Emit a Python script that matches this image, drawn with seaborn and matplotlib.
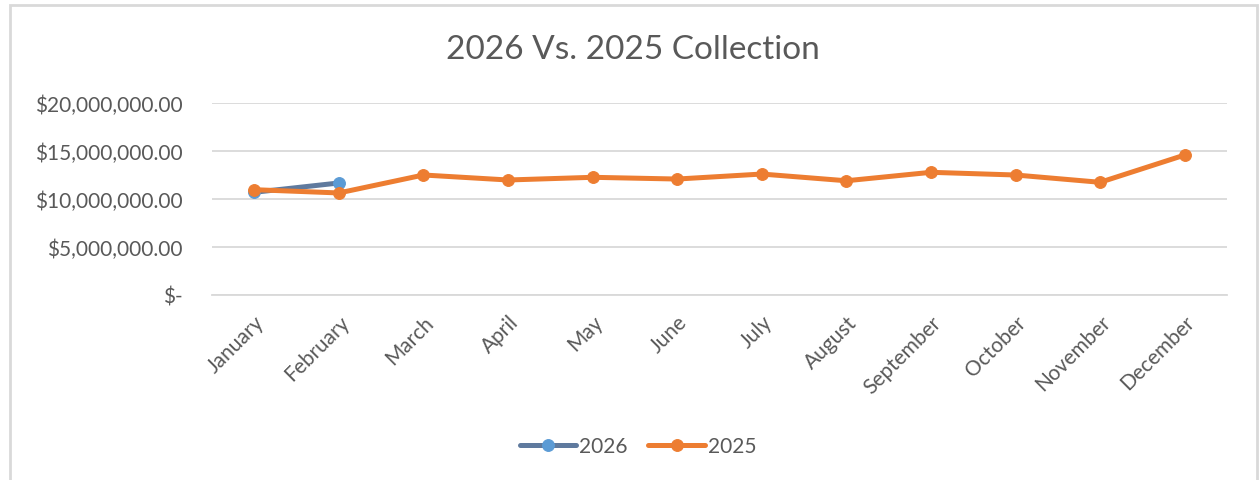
import matplotlib
matplotlib.use("Agg")
import matplotlib.pyplot as plt
import seaborn as sns
import pandas as pd
from matplotlib.patches import Rectangle
from matplotlib.ticker import FuncFormatter

months = ["January", "February", "March", "April", "May", "June", "July",
          "August", "September", "October", "November", "December"]
values_2026 = [10.70e6, 11.67e6]
values_2025 = [10.97e6, 10.63e6, 12.50e6, 11.98e6, 12.26e6, 12.08e6, 12.60e6,
               11.90e6, 12.78e6, 12.50e6, 11.74e6, 14.58e6]
y_ticks = [0, 5e6, 10e6, 15e6, 20e6]

df26 = pd.DataFrame({"month": months[:len(values_2026)], "value": values_2026, "pos": range(len(values_2026))})
df25 = pd.DataFrame({"month": months, "value": values_2025, "pos": range(len(months))})

sns.set_theme(style="white")
plt.rcParams["font.family"] = ["Lato", "DejaVu Sans"]
text_c = "#595959"
grid_c = "#D9D9D9"

fig = plt.figure(figsize=(12.59, 4.81), dpi=100)
ax = fig.add_axes([212 / 1259, 1 - 296 / 481, (1227 - 212) / 1259, (296 - 104) / 481])

sns.lineplot(data=df26, x="pos", y="value", ax=ax, color="#5F7A9E", linewidth=3.6,
             marker="o", markersize=8.5, markerfacecolor="#5B9BD5", markeredgecolor="#5B9BD5",
             label="2026", zorder=3)
sns.lineplot(data=df25, x="pos", y="value", ax=ax, color="#ED7D31", linewidth=3.6,
             marker="o", markersize=8.5, markerfacecolor="#ED7D31", markeredgecolor="#ED7D31",
             label="2025", zorder=4)

ax.set_xlim(-0.5, len(months) - 0.5)
ax.set_ylim(0, 20e6)
ax.set_yticks(y_ticks)
ax.yaxis.set_major_formatter(FuncFormatter(lambda v, p: "$-" if v == 0 else f"${v:,.2f}"))
ax.set_xticks(range(len(months)))
ax.set_xticklabels(months, rotation=45, ha="right", rotation_mode="anchor")
ax.tick_params(axis="both", length=0, colors=text_c, labelsize=15)
ax.tick_params(axis="y", pad=21)
ax.tick_params(axis="x", pad=12)
ax.grid(axis="y", color=grid_c, linewidth=1.3)
ax.set_axisbelow(True)
for s in ["top", "right", "left"]:
    ax.spines[s].set_visible(False)
ax.spines["bottom"].set_color(grid_c)
ax.spines["bottom"].set_linewidth(1.3)
ax.set_xlabel("")
ax.set_ylabel("")

fig.text(633 / 1259, 1 - 50 / 481, "2026 Vs. 2025 Collection", ha="center", va="center",
         fontsize=24, color=text_c)

h, l = ax.get_legend_handles_labels()
ax.legend(h, l, loc="center", bbox_to_anchor=(638 / 1259, 1 - 447 / 481),
          bbox_transform=fig.transFigure, ncol=2, frameon=False, fontsize=15,
          labelcolor=text_c, handlelength=2.7, columnspacing=1.0, handletextpad=0.15)

fig.patches.append(Rectangle((10.5 / 1259, -0.05), (1257 - 10.5) / 1259, 1.05 - 5.5 / 481,
                             transform=fig.transFigure, fill=False, edgecolor=grid_c,
                             linewidth=2, zorder=0))

fig.savefig("out.png", dpi=100, facecolor="white")
